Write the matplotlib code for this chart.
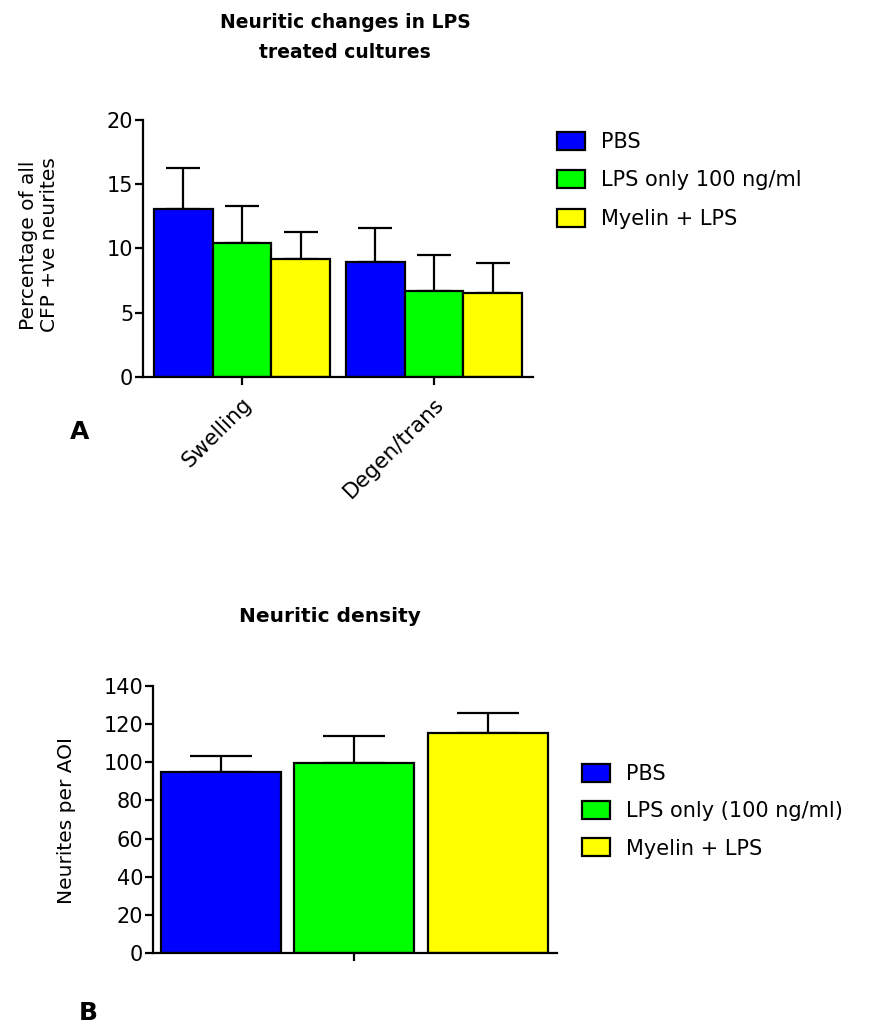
import matplotlib.pyplot as plt
import numpy as np

plt.rcParams['font.family'] = ['DejaVu Sans']

# Datos del panel A
categorias = ['Swelling', 'Degen/trans']
grupos_a = ['PBS', 'LPS only 100 ng/ml', 'Myelin + LPS']
media_pbs = [13.05, 8.95]
media_lps = [10.45, 6.69]
media_mye = [9.16, 6.56]
err_pbs = [3.19, 2.62]
err_lps = [2.85, 2.80]
err_mye = [2.14, 2.34]

# Datos del panel B
grupos_b = ['PBS', 'LPS only (100 ng/ml)', 'Myelin + LPS']
densidad = [95.0, 99.4, 115.6]
err_densidad = [8.2, 14.5, 10.3]

colores = ['#0000ff', '#00ff00', '#ffff00']
W, H = 873, 1027

fig = plt.figure(figsize=(W / 100, H / 100), dpi=100)


def px_axes(left, top, right, bottom):
    return fig.add_axes([left / W, 1 - bottom / H, (right - left) / W, (bottom - top) / H])


def estilo(ax):
    for s in ['top', 'right']:
        ax.spines[s].set_visible(False)
    for s in ['left', 'bottom']:
        ax.spines[s].set_linewidth(1.6)
    ax.tick_params(width=1.6, length=6, labelsize=15, direction='out', pad=1)


def leyenda(ax, x0, y0, esp):
    ax.legend(loc='upper left', bbox_to_anchor=(x0 / W, 1 - y0 / H), bbox_transform=fig.transFigure,
              frameon=False, fontsize=15, handlelength=1.35, handleheight=0.95, labelspacing=esp,
              handletextpad=0.75, borderpad=0, borderaxespad=0)


# Panel A
ax1 = px_axes(143, 120, 533, 377)
estilo(ax1)
x = np.arange(len(categorias))
bw = 0.305
for i, (m, e) in enumerate([(media_pbs, err_pbs), (media_lps, err_lps), (media_mye, err_mye)]):
    pos = x + (i - 1) * bw
    ax1.bar(pos, m, bw, color=colores[i], edgecolor='black', linewidth=1.6, label=grupos_a[i], zorder=2)
    ax1.errorbar(pos, m, yerr=[np.zeros(len(e)), e], fmt='none', ecolor='black',
                 elinewidth=1.6, capsize=12, capthick=1.6, zorder=1)
ax1.set_xlim(-0.516, 1.516)
ax1.set_ylim(0, 20)
ax1.set_yticks([0, 5, 10, 15, 20])
ax1.set_xticks(x)
ax1.set_xticklabels(categorias, rotation=45, ha='right', rotation_mode='anchor', fontsize=15.5)
ax1.tick_params(axis='x', pad=6)
leyenda(ax1, 557, 132, 0.87)

fig.text(345 / W, 1 - 13 / H, 'Neuritic changes in LPS\ntreated cultures', fontsize=13.5,
         fontweight='bold', ha='center', va='top', linespacing=1.7)
fig.text(39 / W, 1 - 245 / H, 'Percentage of all\nCFP +ve neurites', fontsize=14.5, rotation=90,
         ha='center', va='center', linespacing=1.1)
fig.text(80 / W, 1 - 432 / H, 'A', fontsize=18, fontweight='bold', ha='center', va='center')

# Panel B
ax2 = px_axes(153, 686, 557, 953)
estilo(ax2)
xb = np.arange(len(grupos_b)) - 1
for i in range(len(grupos_b)):
    ax2.bar(xb[i], densidad[i], 0.9, color=colores[i], edgecolor='black', linewidth=1.6,
            label=grupos_b[i], zorder=2)
    ax2.errorbar(xb[i], densidad[i], yerr=[[0], [err_densidad[i]]], fmt='none', ecolor='black',
                 elinewidth=1.6, capsize=22, capthick=1.6, zorder=1)
ax2.set_xlim(-1.51, 1.52)
ax2.set_ylim(0, 140)
ax2.set_yticks(np.arange(0, 141, 20))
ax2.set_xticks([0])
ax2.set_xticklabels([''])
leyenda(ax2, 582, 764, 0.82)

fig.text(330 / W, 1 - 617 / H, 'Neuritic density', fontsize=14.5, fontweight='bold',
         ha='center', va='center')
fig.text(67 / W, 1 - 820 / H, 'Neurites per AOI', fontsize=14.5, rotation=90, ha='center', va='center')
fig.text(88 / W, 1 - 1013 / H, 'B', fontsize=18, fontweight='bold', ha='center', va='center')

fig.savefig('out.png', dpi=100)
